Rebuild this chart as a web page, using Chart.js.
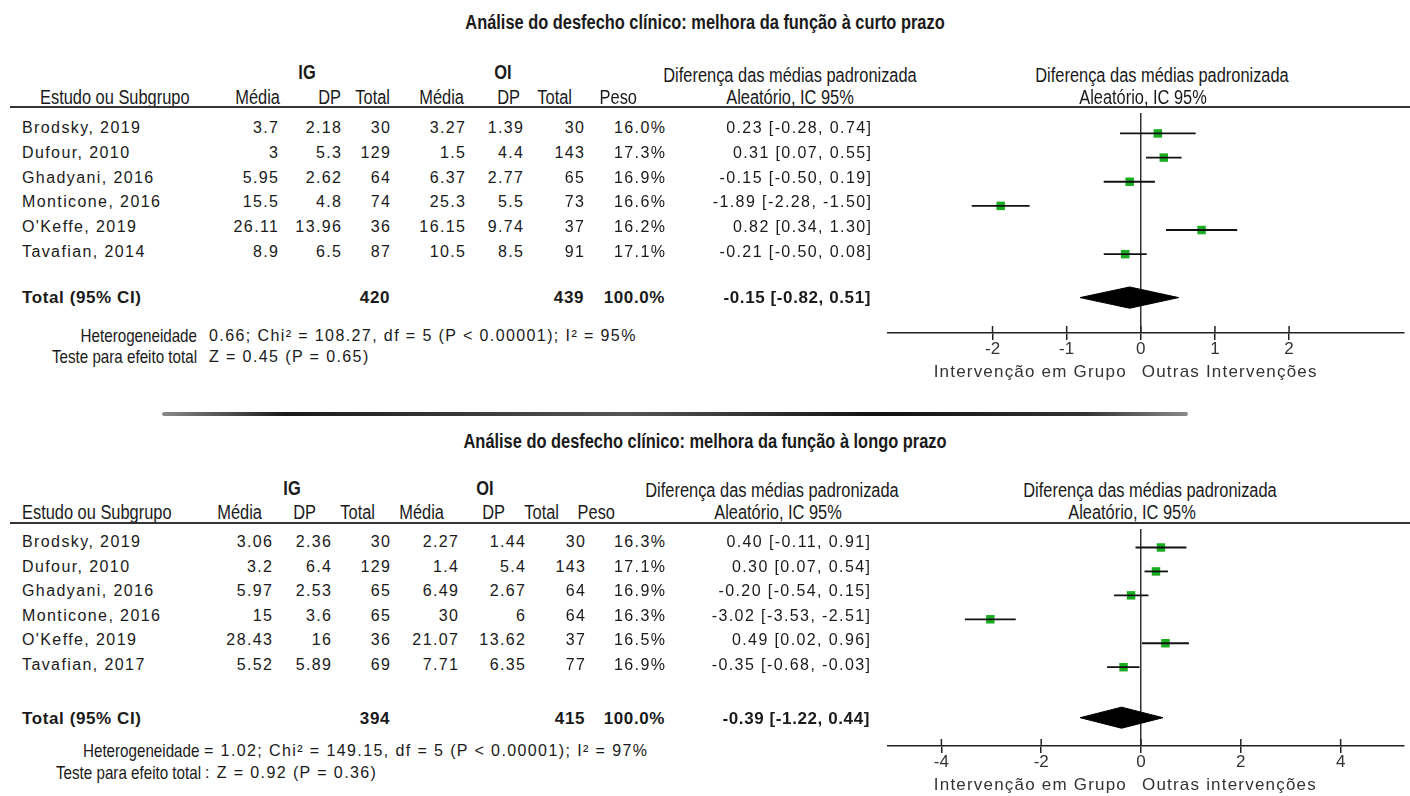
<!DOCTYPE html>
<html>
<head>
<meta charset="utf-8">
<script src="https://cdn.jsdelivr.net/npm/chart.js@4.4.1/dist/chart.umd.min.js"></script>
<style>
  body { margin:0; background:#fff; }
  #page { position:relative; width:1410px; height:796px; overflow:hidden; font-family:"Liberation Sans", Arial, sans-serif; color:#1a1a1a; }
  .t { position:absolute; white-space:nowrap; line-height:1; }
  .d { font-size:16px; letter-spacing:1.4px; }
  .ax { font-size:17px; letter-spacing:1.2px; color:#333; }
  .n { font-size:20px; }
  .hn { font-size:18.5px; }
  .b { font-weight:bold; }
  .tot { font-size:17px; font-weight:bold; letter-spacing:0.6px; }
  .ttl { font-size:20px; font-weight:bold; }
  .rule { position:absolute; height:2px; background:#333; }
  .box { position:absolute; }
</style>
</head>
<body>
<div id="page">
  <div class="box" style="left:860px; top:107px; width:550px; height:276px;"><canvas id="plot1"></canvas></div>
  <div class="box" style="left:860px; top:523px; width:550px; height:273px;"><canvas id="plot2"></canvas></div>
</div>
<script>
// ---- data: curto prazo ----
const studies1 = ["Brodsky, 2019", "Dufour, 2010", "Ghadyani, 2016", "Monticone, 2016", "O'Keffe, 2019", "Tavafian, 2014"];
const igMean1 = [3.7, 3, 5.95, 15.5, 26.11, 8.9];
const igSd1 = [2.18, 5.3, 2.62, 4.8, 13.96, 6.5];
const igN1 = [30, 129, 64, 74, 36, 87];
const oiMean1 = [3.27, 1.5, 6.37, 25.3, 16.15, 10.5];
const oiSd1 = [1.39, 4.4, 2.77, 5.5, 9.74, 8.5];
const oiN1 = [30, 143, 65, 73, 37, 91];
const weight1 = [16.0, 17.3, 16.9, 16.6, 16.2, 17.1];
const smd1 = [0.23, 0.31, -0.15, -1.89, 0.82, -0.21];
const lo1 = [-0.28, 0.07, -0.50, -2.28, 0.34, -0.50];
const hi1 = [0.74, 0.55, 0.19, -1.50, 1.30, 0.08];
const total1 = { igN: 420, oiN: 439, weight: 100.0, smd: -0.15, lo: -0.82, hi: 0.51 };
const hetero1 = "0.66; Chi² = 108.27, df = 5 (P < 0.00001); I² = 95%";
const overall1 = "Z = 0.45 (P = 0.65)";
const ticks1 = [-2, -1, 0, 1, 2];

// ---- data: longo prazo ----
const studies2 = ["Brodsky, 2019", "Dufour, 2010", "Ghadyani, 2016", "Monticone, 2016", "O'Keffe, 2019", "Tavafian, 2017"];
const igMean2 = [3.06, 3.2, 5.97, 15, 28.43, 5.52];
const igSd2 = [2.36, 6.4, 2.53, 3.6, 16, 5.89];
const igN2 = [30, 129, 65, 65, 36, 69];
const oiMean2 = [2.27, 1.4, 6.49, 30, 21.07, 7.71];
const oiSd2 = [1.44, 5.4, 2.67, 6, 13.62, 6.35];
const oiN2 = [30, 143, 64, 64, 37, 77];
const weight2 = [16.3, 17.1, 16.9, 16.3, 16.5, 16.9];
const smd2 = [0.40, 0.30, -0.20, -3.02, 0.49, -0.35];
const lo2 = [-0.11, 0.07, -0.54, -3.53, 0.02, -0.68];
const hi2 = [0.91, 0.54, 0.15, -2.51, 0.96, -0.03];
const total2 = { igN: 394, oiN: 415, weight: 100.0, smd: -0.39, lo: -1.22, hi: 0.44 };
const hetero2 = "= 1.02; Chi² = 149.15, df = 5 (P < 0.00001); I² = 97%";
const overall2 = ": Z = 0.92 (P = 0.36)";
const ticks2 = [-4, -2, 0, 2, 4];

const page = document.getElementById('page');

// place a text; align l/c/r, sx = horizontal squeeze (narrow font look)
function put(html, x, y, cls, align, sx) {
  const el = document.createElement('div');
  el.className = 't ' + cls;
  el.innerHTML = html;
  el.style.left = x + 'px';
  el.style.top = y + 'px';
  const tx = align === 'r' ? '-100%' : align === 'c' ? '-50%' : '0';
  const ox = align === 'r' ? '100%' : align === 'c' ? '50%' : '0';
  el.style.transformOrigin = ox + ' 50%';
  el.style.transform = 'translate(' + tx + ',-50%)' + (sx ? ' scaleX(' + sx + ')' : '');
  page.appendChild(el);
  return el;
}
function rule(x, y, w) {
  const el = document.createElement('div');
  el.className = 'rule';
  el.style.left = x + 'px'; el.style.top = y + 'px'; el.style.width = w + 'px';
  page.appendChild(el);
}
const ci = (e, l, h) => e.toFixed(2) + ' [' + l.toFixed(2) + ', ' + h.toFixed(2) + ']';
const NS = 0.82;

// layout of each panel (pixels)
const L1 = { title: 22, grp: 72, hA: 75, hB: 97, line: 107, row0: 128, step: 24.8, totY: 297, het: 336, tst: 357,
  nameX: 22, headX: 40, cols: [278, 341, 390, 465, 523, 584, 665, 871], heads: [280, 341, 390, 464, 520, 572, 637],
  igX: 307, oiX: 503, midX: 790, midB: 790, rightX: 1162, rightB: 1143, axisLab: 371 };
const L2 = { title: 441, grp: 488, hA: 490, hB: 512, line: 523, row0: 542, step: 24.6, totY: 718, het: 751, tst: 773,
  nameX: 22, headX: 22, cols: [272, 331, 390, 458, 525, 585, 665, 870], heads: [262, 316, 375, 444, 505, 559, 615],
  igX: 292, oiX: 485, midX: 772, midB: 778, rightX: 1150, rightB: 1132, axisLab: 784 };

function drawTable(L, title, names, cols, tot) {
  put(title, 705, L.title, 'ttl', 'c', NS);
  put('IG', L.igX, L.grp, 'n b', 'c', NS);
  put('OI', L.oiX, L.grp, 'n b', 'c', NS);
  put('Diferença das médias padronizada', L.midX, L.hA, 'n', 'c', NS);
  put('Aleatório, IC 95%', L.midB, L.hB, 'n', 'c', NS);
  put('Diferença das médias padronizada', L.rightX, L.hA, 'n', 'c', NS);
  put('Aleatório, IC 95%', L.rightB, L.hB, 'n', 'c', NS);
  put('Estudo ou Subgrupo', L.headX, L.hB, 'n', 'l', NS);
  ['Média', 'DP', 'Total', 'Média', 'DP', 'Total', 'Peso'].forEach((h, j) => put(h, L.heads[j], L.hB, 'n', 'r', NS));
  rule(10, L.line - 1, 1400);
  names.forEach((nm, i) => {
    const y = L.row0 + i * L.step;
    put(nm, L.nameX, y, 'd', 'l');
    cols.forEach((c, j) => put(c[i], L.cols[j] + 1.4, y, 'd', 'r'));
  });
  put('Total (95% CI)', L.nameX, L.totY, 'tot', 'l');
  put(String(tot.igN), L.cols[2], L.totY, 'tot', 'r');
  put(String(tot.oiN), L.cols[5], L.totY, 'tot', 'r');
  put(tot.weight.toFixed(1) + '%', L.cols[6], L.totY, 'tot', 'r');
  put(ci(tot.smd, tot.lo, tot.hi), L.cols[7], L.totY, 'tot', 'r');
}

const pct = a => a.map(v => v.toFixed(1) + '%');
drawTable(L1, 'Análise do desfecho clínico: melhora da função à curto prazo', studies1,
  [igMean1, igSd1, igN1, oiMean1, oiSd1, oiN1, pct(weight1), smd1.map((e, i) => ci(e, lo1[i], hi1[i]))], total1);
drawTable(L2, 'Análise do desfecho clínico: melhora da função à longo prazo', studies2,
  [igMean2, igSd2, igN2, oiMean2, oiSd2, oiN2, pct(weight2), smd2.map((e, i) => ci(e, lo2[i], hi2[i]))], total2);

put('Heterogeneidade', 197, L1.het, 'hn', 'r', NS);
put(hetero1, 209, L1.het, 'd', 'l');
put('Teste para efeito total', 197, L1.tst, 'hn', 'r', NS);
put(overall1, 209, L1.tst, 'd', 'l');
put('Heterogeneidade', 83, L2.het, 'hn', 'l', NS);
put(hetero2, 204, L2.het, 'd', 'l');
put('Teste para efeito total', 56, L2.tst, 'hn', 'l', NS);
put(overall2, 205, L2.tst, 'd', 'l');

// separator between the two analyses
const sep = document.createElement('div');
sep.style.cssText = 'position:absolute;left:162px;top:412px;width:1026px;height:4px;border-radius:2px;' +
  'background:linear-gradient(to right,#8a8a8a,#1a1a1a 12%,#555 45%,#111 70%,#333 90%,#8a8a8a);';
page.appendChild(sep);

// ticks pointing up from the axis line
const upTicks = {
  id: 'upTicks',
  afterDraw(chart) {
    const sx = chart.scales.x, ctx = chart.ctx, yb = chart.chartArea.bottom;
    ctx.save();
    ctx.strokeStyle = '#222';
    ctx.lineWidth = 1.5;
    sx.ticks.forEach(t => {
      const px = sx.getPixelForValue(t.value);
      ctx.beginPath(); ctx.moveTo(px, yb - 7); ctx.lineTo(px, yb); ctx.stroke();
    });
    ctx.restore();
  }
};

function forest(id, est, lo, hi, tot, tickVals, xMin, xMax, L, totRow) {
  const yMin = -(L.row0 - L.line) / L.step;
  const plotH = document.getElementById(id).parentNode.offsetHeight - 50;
  const yMax = yMin + plotH / L.step;
  const datasets = [];
  est.forEach((e, i) => {
    datasets.push({ data: [{ x: lo[i], y: i }, { x: hi[i], y: i }], showLine: true,
      borderColor: '#111', borderWidth: 1.8, pointRadius: 0 });
  });
  datasets.push({ data: est.map((e, i) => ({ x: e, y: i })), pointStyle: 'rect', pointRadius: 6,
    backgroundColor: '#1aad22', borderColor: '#1aad22', borderWidth: 0 });
  const h = 0.44;
  datasets.push({ data: [{ x: tot.lo, y: totRow }, { x: tot.smd, y: totRow - h }, { x: tot.hi, y: totRow },
    { x: tot.smd, y: totRow + h }, { x: tot.lo, y: totRow }], showLine: true, fill: 'shape',
    backgroundColor: '#000', borderColor: '#000', borderWidth: 1, pointRadius: 0 });

  return new Chart(document.getElementById(id), {
    type: 'scatter',
    data: { datasets },
    options: {
      responsive: true, maintainAspectRatio: false, animation: false,
      layout: { padding: { left: 28, right: 0, top: 0, bottom: 0 } },
      plugins: { legend: { display: false }, tooltip: { enabled: false } },
      scales: {
        x: {
          type: 'linear', min: xMin, max: xMax,
          afterBuildTicks: s => { s.ticks = tickVals.map(v => ({ value: v })); },
          afterFit: s => { s.height = 50; },
          border: { display: true, color: '#222', width: 1.6 },
          grid: { drawOnChartArea: true, drawTicks: true, tickLength: 7, lineWidth: 1.5, tickColor: '#222',
            color: c => (c.tick && c.tick.value === 0) ? '#333' : 'rgba(0,0,0,0)' },
          ticks: { color: '#333', padding: -1, font: { family: 'Liberation Sans', size: 17 } }
        },
        y: { type: 'linear', min: yMin, max: yMax, reverse: true, display: false }
      }
    },
    plugins: [upTicks]
  });
}

const c1 = forest('plot1', smd1, lo1, hi1, total1, ticks1, -3.41, 3.55, L1, 6.8);
const c2 = forest('plot2', smd2, lo2, hi2, total2, ticks2, -5.07, 5.27, L2, 7.11);

// group labels either side of the zero line
[[c1, L1, 'Outras Intervenções'], [c2, L2, 'Outras intervenções']].forEach(([c, L, right]) => {
  const zx = 860 + c.scales.x.getPixelForValue(0);
  put('Intervenção em Grupo', zx - 14, L.axisLab, 'ax', 'r');
  put(right, zx + 1, L.axisLab, 'ax', 'l');
});
</script>
</body>
</html>
